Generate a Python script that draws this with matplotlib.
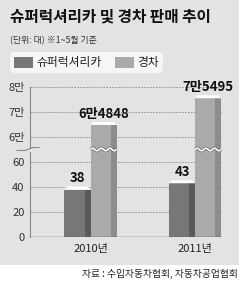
import matplotlib.pyplot as plt
import numpy as np
from matplotlib.patches import Rectangle, FancyBboxPatch, Polygon

plt.rcParams['font.family'] = ['Noto Sans CJK KR', 'DejaVu Sans']

years = ['2010년', '2011년']
luxury = [38, 43]
light_car = [64848, 75495]
luxury_labels = ['38', '43']
light_labels = ['6만4848', '7만5495']
ytick_labels = ['0', '20', '40', '60', '6만', '7만', '8만']
series_names = ['슈퍼럭셔리카', '경차']

W, H = 240, 281
BG = '#e3e3e3'
DARK, DARK_SIDE = '#777777', '#5a5a5a'
LIGHT, LIGHT_SIDE = '#aaaaaa', '#8c8c8c'


def to_pos(v):
    # broken axis: 0~60 by 20, then 6만~8만 by 1만
    if v <= 60:
        return v / 20
    return 4 + (v - 60000) / 10000


def fx(px):
    return px / W


def fy(py):
    return 1 - py / H


fig = plt.figure(figsize=(W / 100, H / 100), dpi=100)
fig.patch.set_facecolor('white')
fig.patches.append(Rectangle((0, fy(265)), fx(239), 265 / H, transform=fig.transFigure,
                             facecolor=BG, edgecolor='none', zorder=-2))

fig.text(fx(10), fy(17), '슈퍼럭셔리카 및 경차 판매 추이', fontsize=11.3, fontweight='bold',
         va='center', ha='left', color='#111111')
fig.text(fx(10), fy(41), '(단위: 대) ※1~5월 기준', fontsize=6.4, va='center', ha='left',
         color='#333333')

# legend
fig.patches.append(FancyBboxPatch((fx(10), fy(73)), fx(153), 21 / H,
                                  boxstyle='round,pad=0,rounding_size=0.02',
                                  transform=fig.transFigure, facecolor='#f6f6f6',
                                  edgecolor='none', zorder=-1))
for (px, color, name) in [(14, DARK, series_names[0]), (115, LIGHT, series_names[1])]:
    fig.patches.append(Rectangle((fx(px), fy(68)), fx(19), 11 / H, transform=fig.transFigure,
                                 facecolor=color, edgecolor='none', zorder=1))
    fig.text(fx(px + 22), fy(62.5), name, fontsize=8.5, va='center', ha='left', color='#222222')

ax = fig.add_axes([fx(30), fy(237), fx(192), 150 / H])
ax.set_facecolor('none')
ax.set_xlim(-0.579, 1.258)
ax.set_ylim(0, 6)
for s in ax.spines.values():
    s.set_visible(False)

x = np.arange(len(years))
w = 0.249
fw = w * 0.77
px_x = 1 / 104.5
px_y = 1 / 25

for i in x:
    for off, val, front, side, lab in [(-w / 2, luxury[i], DARK, DARK_SIDE, luxury_labels[i]),
                                       (w / 2, light_car[i], LIGHT, LIGHT_SIDE, light_labels[i])]:
        h = to_pos(val)
        left = i + off - w / 2
        ax.bar(left, h, width=w, align='edge', color=side, zorder=3)
        ax.bar(left, h, width=fw, align='edge', color=front, zorder=4)
        cap = Polygon([(left, h), (left + 3 * px_x, h + 3 * px_y),
                       (left + w - 3 * px_x, h + 3 * px_y), (left + w, h)],
                      closed=True, facecolor='white', edgecolor='none', zorder=5)
        ax.add_patch(cap)
        if val > 60:
            xs = np.linspace(left, left + w, 40)
            ys = 3.5 + 1.3 * px_y * np.sin((xs - left) / w * 3 * 2 * np.pi)
            ax.plot(xs, ys, color='#666666', lw=2.2, zorder=5, solid_capstyle='butt')
            ax.plot(xs, ys, color='white', lw=1.2, zorder=6, solid_capstyle='butt')
        ax.text(left + w / 2, h + 4 * px_y, lab, ha='center', va='bottom', fontsize=9.5,
                fontweight='bold', color='#111111', zorder=6)

# grid and baseline
ax.hlines(range(1, 7), -0.579, 1.258, colors='#8c8c8c', lw=0.6,
          linestyles=(0, (2, 1.5)), zorder=1)
ax.axhline(0, color='#555555', lw=1.0, zorder=7)

# y axis with break marks
xl = -0.579
ax.plot([xl, xl], [0, 3.5 - 2 * px_y], color='#888888', lw=0.8, clip_on=False, zorder=2)
ax.plot([xl, xl], [3.5 + 2 * px_y, 6], color='#888888', lw=0.8, clip_on=False, zorder=2)
zx = [xl - 13 * px_x, xl - 5 * px_x, xl + 3 * px_x, xl + 9 * px_x]
zy = [3.5 - 1 * px_y, 3.5 - 1 * px_y, 3.5 + 2 * px_y, 3.5 + 2 * px_y]
ax.plot(zx, zy, color='#888888', lw=0.8, clip_on=False, zorder=2)

ax.set_yticks(range(7))
ax.set_yticklabels(ytick_labels, fontsize=8, color='#333333')
ax.set_xticks(x)
ax.set_xticklabels(years, fontsize=8, color='#222222')
ax.tick_params(axis='both', length=0)
ax.tick_params(axis='y', pad=4)
ax.tick_params(axis='x', pad=5)

fig.text(fx(238), fy(274), '자료 : 수입자동차협회, 자동차공업협회', fontsize=7, ha='right',
         va='center', color='#222222')

fig.savefig('out.png', dpi=100, facecolor=fig.get_facecolor())
